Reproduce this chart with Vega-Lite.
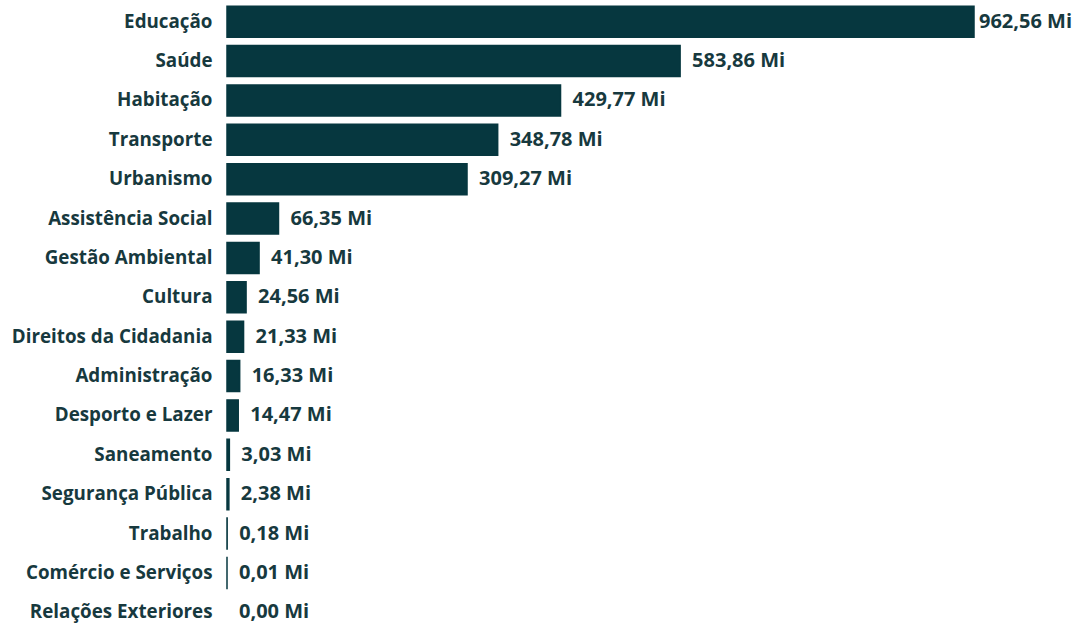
{
  "$schema": "https://vega.github.io/schema/vega-lite/v6.json",
  "autosize": {"type": "none"},
  "padding": {"left": 227, "top": 0, "right": 102, "bottom": 0},
  "width": 747,
  "height": 623,
  "background": "#ffffff",
  "data": {
    "values": [
      {"funcao": "Educação", "valor": 962.56},
      {"funcao": "Saúde", "valor": 583.86},
      {"funcao": "Habitação", "valor": 429.77},
      {"funcao": "Transporte", "valor": 348.78},
      {"funcao": "Urbanismo", "valor": 309.27},
      {"funcao": "Assistência Social", "valor": 66.35},
      {"funcao": "Gestão Ambiental", "valor": 41.30},
      {"funcao": "Cultura", "valor": 24.56},
      {"funcao": "Direitos da Cidadania", "valor": 21.33},
      {"funcao": "Administração", "valor": 16.33},
      {"funcao": "Desporto e Lazer", "valor": 14.47},
      {"funcao": "Saneamento", "valor": 3.03},
      {"funcao": "Segurança Pública", "valor": 2.38},
      {"funcao": "Trabalho", "valor": 0.18},
      {"funcao": "Comércio e Serviços", "valor": 0.01},
      {"funcao": "Relações Exteriores", "valor": 0.00}
    ]
  },
  "transform": [
    {"calculate": "replace(format(datum.valor, '.2f'), '.', ',') + ' Mi'", "as": "rotulo"}
  ],
  "encoding": {
    "y": {
      "field": "funcao",
      "type": "nominal",
      "sort": null,
      "scale": {"range": [2, 632], "paddingInner": 0.21, "paddingOuter": 0.105},
      "axis": {
        "title": null,
        "domain": false,
        "ticks": false,
        "labelPadding": 15,
        "labelFont": "Open Sans",
        "labelFontWeight": "bold",
        "labelFontSize": 18.8,
        "labelColor": "#17393e",
        "labelLimit": 300
      }
    },
    "x": {
      "field": "valor",
      "type": "quantitative",
      "scale": {"domain": [0, 962.56], "nice": false},
      "axis": null
    }
  },
  "layer": [
    {
      "mark": {"type": "bar", "color": "#06373f", "stroke": "#06373f"},
      "encoding": {
        "strokeWidth": {"condition": {"test": "datum.valor > 0", "value": 1.5}, "value": 0}
      }
    },
    {
      "transform": [{"filter": "datum.valor < 900"}],
      "mark": {
        "type": "text",
        "align": "left",
        "baseline": "middle",
        "dx": 12,
        "font": "Open Sans",
        "fontWeight": "bold",
        "fontSize": 20,
        "color": "#17393e"
      },
      "encoding": {"text": {"field": "rotulo"}}
    },
    {
      "transform": [{"filter": "datum.valor >= 900"}],
      "mark": {
        "type": "text",
        "align": "left",
        "baseline": "middle",
        "dx": 5,
        "font": "Open Sans",
        "fontWeight": "bold",
        "fontSize": 20,
        "color": "#17393e"
      },
      "encoding": {"text": {"field": "rotulo"}}
    }
  ],
  "config": {"view": {"stroke": null}}
}
